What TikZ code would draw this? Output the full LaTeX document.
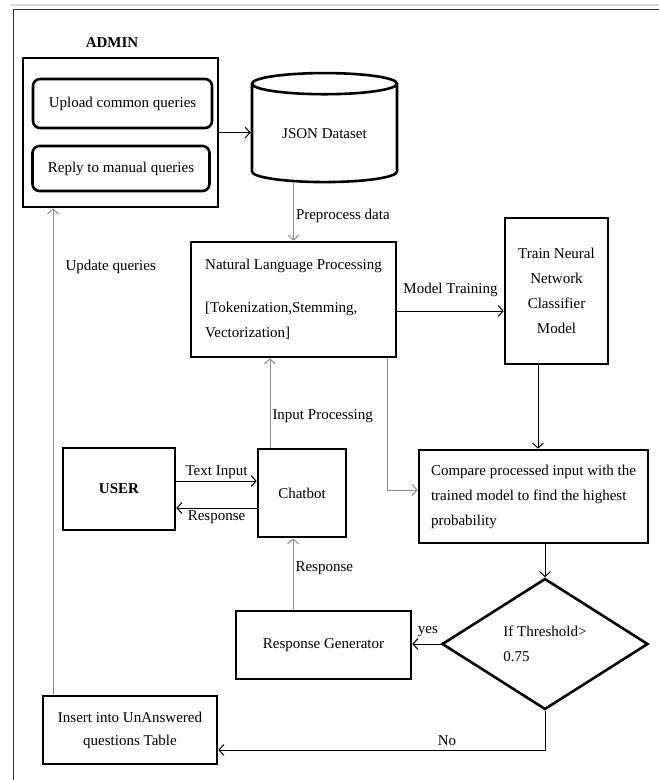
\documentclass[tikz,border=0pt]{standalone}
\usepackage{fontspec}
\setmainfont{Liberation Serif}
\usetikzlibrary{arrows.meta,shapes.geometric,calc}

\tikzset{
  box/.style={draw, line width=2.6pt, font=\fontsize{15}{25}\selectfont, inner sep=0pt},
  roundbox/.style={box, rounded corners=7pt},
  wire/.style={line width=1pt, -{Straight Barb[length=5pt,width=11pt]}},
  greywire/.style={wire, draw=black!45},
  lbl/.style={font=\fontsize{15}{18}\selectfont, inner sep=2pt}
}

\begin{document}
\begin{tikzpicture}[x=1pt,y=-1pt]
            \useasboundingbox (0,0) rectangle (659,780);
            % page frame
            \draw[black!15, line width=1.5pt] (10,5) -- (659,5);
            \draw[black!80, line width=1pt] (13,780) -- (13,9) -- (659,9);

            % admin
            \node[font=\bfseries\fontsize{15}{18}\selectfont] (adminlbl) at (112,43) {ADMIN};
            \node[box, minimum width=195pt, minimum height=149pt] (admin) at (120.5,132.5) {};
            \node[roundbox, minimum width=179pt, minimum height=49pt] (upload) at (122.5,103.5) {Upload common queries};
            \node[roundbox, minimum width=177pt, minimum height=45pt] (reply) at (121,168.5) {Reply to manual queries};

            \node[box, cylinder, shape border rotate=90, aspect=0.25, minimum width=145pt, minimum height=109pt] (json) at (324.5,133.5) {JSON Dataset};

            \node[box, minimum width=205pt, minimum height=115pt, align=left] (nlp) at (293.5,299.5) {Natural Language Processing\\[18pt][Tokenization,Stemming,\\Vectorization]};
            \node[box, minimum width=103pt, minimum height=146pt, align=center] (train) at (556.5,291) {Train Neural\\Network\\Classifier\\Model};
            \node[box, minimum width=229pt, minimum height=93pt, align=left] (compare) at (533.5,496.5) {Compare processed input with the\\trained model to find the highest\\probability};

            % user side
            \node[box, minimum width=112pt, minimum height=82pt, font=\bfseries\fontsize{15}{25}\selectfont] (user) at (119,489) {USER};
            \node[box, minimum width=88pt, minimum height=88pt] (chatbot) at (302,493) {Chatbot};
            \node[box, minimum width=175pt, minimum height=68pt] (respgen) at (323.5,645) {Response Generator};
            \node[box, diamond, minimum width=206pt, minimum height=131pt, align=left] (threshold) at (545,644) {If Threshold>\\0.75};
            \node[box, minimum width=174pt, minimum height=68pt, align=center, font=\fontsize{15}{23}\selectfont] (unans) at (130,730) {Insert into UnAnswered\\questions Table};

            % connectors
            \draw[wire] (admin.east) -- (admin.east -| json.west);
            \draw[greywire] (nlp.north |- json.south) -- node[lbl, pos=0.57, anchor=west] (lblpre) {Preprocess data} (nlp.north);
            \draw[wire] ([yshift=-11.5pt]nlp.east) -- node[lbl, above=12pt] (lbltrain) {Model Training} ([yshift=-11.5pt]nlp.east -| train.west);
            \draw[wire] ([xshift=-18.5pt]train.south) -- ([xshift=-18.5pt]train.south |- compare.north);
            \draw[greywire] ([xshift=-10pt]nlp.south east) |- ([yshift=6.5pt]compare.west);
            \draw[wire] (threshold.north |- compare.south) -- (threshold.north);
            \draw[wire] (threshold.west) -- node[lbl, pos=0.45, above=5pt] (lblyes) {yes} (threshold.west -| respgen.east);

            \draw[greywire] ([xshift=-30.5pt]respgen.north) -- node[lbl, pos=0.58, anchor=west] (lblresp) {Response} ([xshift=-30.5pt]respgen.north |- chatbot.south);
            \draw[greywire] ([xshift=-32pt]chatbot.north) -- node[lbl, pos=0.35, anchor=west] (lblinput) {Input Processing} ([xshift=-32pt]chatbot.north |- nlp.south);
            \draw[wire] ([yshift=8pt]user.east) -- node[lbl, above] (lbltext) {Text Input} ([yshift=8pt]user.east -| chatbot.west);
            \draw[wire] ([yshift=-15pt]chatbot.west) -- node[lbl, below] (lblback) {Response} ([yshift=-15pt]chatbot.west -| user.east);

            \draw[wire] (threshold.south) |- node[lbl, pos=0.65, above=2pt] (lblno) {No} ([yshift=-20pt]unans.east);
            \draw[greywire] ([xshift=-77pt]unans.north) -- node[lbl, pos=0.88, anchor=west, xshift=10pt] (lblupd) {Update queries} ([xshift=-77pt]unans.north |- admin.south);
\end{tikzpicture}
\end{document}
